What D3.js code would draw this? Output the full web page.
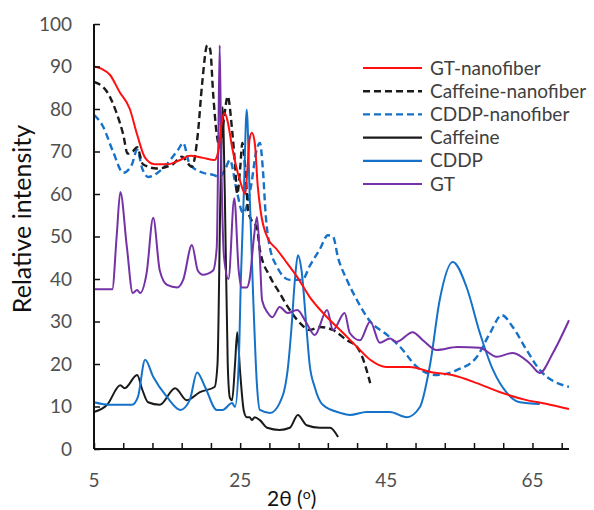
<!DOCTYPE html>
<html>
<head>
	<meta charset="utf-8">
	<script src="https://d3js.org/d3.v7.min.js"></script>
	<style>
		body {
			margin: 0;
			background: #fff;
		}
		text {
			font-family: Lato, "Open Sans", sans-serif;
		}
	</style>
</head>
<body>
	<div id="chartContainer"></div>

	<script type="text/javascript">
		// [2theta, relative intensity]
		var gtNanofiber = [[5,90],[6,89.5],[7.2,88],[8.5,84],[9.9,80],[10.9,74],[12,68.5],[13.3,67],[15,67],[16.8,68],[18.1,69],[19.9,68.5],[21.5,68],[22,70],[22.6,78],[22.9,79],[23.3,77],[23.9,71],[25,63],[25.7,60],[26,66],[26.3,73],[26.6,74.4],[27,72],[27.4,62],[27.8,56],[28.8,49.5],[30,47],[31.4,43.8],[32.8,40.5],[34.5,35.8],[36.9,31],[39.1,27.3],[41,24],[42.8,21],[45,19.3],[48.2,19.3],[51.4,18],[54,17.4],[57.4,15.5],[60.5,13.4],[64.2,11.5],[67,10.6],[70,9.4]];
		var caffeineNanofiber = [[5,86.4],[6.8,84],[8.1,79],[9,74],[9.6,69.5],[10.3,70],[10.9,71],[11.7,67],[13.6,66],[15.8,67],[17,68.8],[18.4,66.4],[19.2,74],[19.8,86],[20.5,95],[20.9,94],[21.3,83.7],[21.8,74],[22.2,71],[22.8,78],[23.3,83],[23.9,75],[24.3,67],[24.6,60],[25,66],[25.3,72],[25.7,66],[26.1,56],[26.5,54],[27.3,52],[27.7,46.8],[29.1,40.5],[30.4,36.7],[31.8,32.7],[33.2,29.6],[34.5,28],[35.9,28.7],[37.7,28],[39.6,25.6],[41,24],[41.7,21.7],[42.8,15.5]];
		var cddpNanofiber = [[5,78.6],[6.2,76],[7.6,70],[9,65],[10.2,67],[10.9,70.4],[11.6,66],[12.4,64],[14.4,66],[16.5,70.4],[17.2,72],[18.1,67],[19.9,65],[21.3,64.5],[22.2,64],[23,66],[23.6,68],[24.5,61],[25.4,55.5],[26.5,62],[27.2,70],[27.7,72],[28.1,66],[28.5,55],[29,48],[30,43],[31.8,39.8],[33.5,39.8],[34.5,43],[35.9,47],[37,50.3],[37.7,50],[38.4,45],[39.6,39.8],[41,35],[42.8,30],[45,27],[46.9,24],[49.2,19.3],[51.9,17.4],[54.7,18.6],[57.4,21.7],[59.2,27.3],[60.8,31.5],[62.3,28.7],[64.2,23.3],[66,18.6],[70,14.6]];
		var caffeine = [[5,8.7],[6.8,10.4],[8.6,15],[9.2,14.3],[10.9,17.4],[11.6,14],[12.4,11],[14,10.4],[16.1,14.3],[17.7,11.5],[19.5,13.4],[21.5,14.6],[21.9,20],[22.3,60],[22.6,80.5],[22.9,60],[23.3,20],[23.6,12],[23.9,11.5],[24.3,20],[24.6,27.5],[25,18],[25.5,9],[25.9,7.5],[26.3,7.5],[26.6,6.8],[27,7.5],[27.7,6.8],[28.7,5],[30.4,4.5],[31.8,5],[32.9,8],[34.1,5.6],[35.9,5],[37.3,5],[38.4,2.8]];
		var cddp = [[5,11],[7.2,10.4],[10.2,10.4],[11,12.2],[12,21],[13.1,17],[15,12.2],[16.8,9.2],[18.1,11.5],[19.1,18],[20.2,14.6],[21.8,9.2],[22.6,9.2],[23.9,10.8],[24.3,9.9],[24.8,20],[25.1,40],[25.5,60],[25.9,79.8],[26.3,60],[26.8,35],[27.3,15],[27.7,9.2],[29.1,8.5],[30.4,10.8],[31.5,18.6],[32,28],[32.5,40],[32.9,45.6],[33.4,42],[34.1,28],[34.5,20],[35.2,14.6],[36.3,10.4],[38.7,8.5],[40,8],[42.3,8.7],[45.5,8.7],[47.8,7.5],[49.6,9.9],[51,20],[52.3,35],[54.1,44],[56,38],[57.8,27.3],[59.6,18.6],[61.5,13.2],[63.3,11],[66,10.6]];
		var gt = [[5,37.6],[7.5,37.6],[8.1,50],[8.6,60.5],[9.5,47.5],[10.3,36.7],[10.9,37.4],[11.3,36.7],[12.2,41.4],[13.1,54.4],[14,42],[15,38.6],[16.4,38],[17.2,39.8],[18.4,48],[19.2,42],[19.9,41],[21.3,42],[21.8,47.5],[22,70],[22.2,95],[22.4,70],[22.8,45],[23.4,40],[24.2,59],[24.8,42],[25.2,38],[25.9,38],[26.3,40],[26.9,50],[27.3,54.6],[27.7,45],[28,35],[28.8,32],[29.4,31],[30.4,33.4],[31.5,32],[32.8,32.7],[34.1,29.6],[35.2,26.8],[36.9,32.7],[37.7,28],[39.3,32],[40,27.3],[41.4,25.6],[42.8,30],[44.1,25],[45.5,26],[46.4,25.2],[48.6,27.5],[50,25.6],[51.9,23.3],[54.7,24],[57.8,23.8],[60.1,21.7],[62.3,22.6],[64.6,20.2],[66,17.9],[67.8,22.6],[70,30.3]];

		var xTickLabels = [5, 25, 45, 65];
		var yTickLabels = [0, 10, 20, 30, 40, 50, 60, 70, 80, 90, 100];

		var series = [
			{name: "GT-nanofiber", values: gtNanofiber, color: "#ff1010", dash: null},
			{name: "Caffeine-nanofiber", values: caffeineNanofiber, color: "#1a1a1a", dash: "7,4"},
			{name: "CDDP-nanofiber", values: cddpNanofiber, color: "#1572c8", dash: "7,4"},
			{name: "Caffeine", values: caffeine, color: "#1a1a1a", dash: null},
			{name: "CDDP", values: cddp, color: "#1572c8", dash: null},
			{name: "GT", values: gt, color: "#7532a6", dash: null}
		];

		var width = 594, height = 510;
		var svg = d3.select("#chartContainer").append("svg")
			.attr("width", width)
			.attr("height", height);

		var x = d3.scaleLinear().domain([5, 70]).range([94, 569]);
		var y = d3.scaleLinear().domain([0, 100]).range([449, 24]);

		// draw order: dashed ones underneath, red on top
		var drawOrder = [2, 1, 3, 4, 5, 0];
		var line = d3.line()
			.x(function(d) { return x(d[0]); })
			.y(function(d) { return y(d[1]); })
			.curve(d3.curveMonotoneX);

		drawOrder.forEach(function(i) {
			var s = series[i];
			svg.append("path")
				.datum(s.values)
				.attr("fill", "none")
				.attr("stroke", s.color)
				.attr("stroke-width", s.dash ? 2.4 : 2)
				.attr("stroke-dasharray", s.dash)
				.attr("d", line);
		});

		// x axis, ticks every 4 units pointing up, labels only at 5,25,45,65
		var xAxis = svg.append("g").attr("transform", "translate(0," + y(0) + ")");
		xAxis.call(d3.axisTop(x).tickValues(d3.range(5, 70, 4)).tickSize(6).tickFormat(""));
		xAxis.select(".domain").attr("d", "M" + x(5) + ",0H" + x(70)).attr("stroke", "#111").attr("stroke-width", 2);
		xAxis.selectAll(".tick line").attr("stroke", "#111").attr("stroke-width", 1.5);
		svg.selectAll(".xlab").data(xTickLabels).enter().append("text")
			.attr("x", function(d) { return x(d); })
			.attr("y", 487)
			.attr("text-anchor", "middle")
			.style("font-size", "19px")
			.style("fill", "#505050")
			.text(function(d) { return d; });

		// y axis
		var yAxis = svg.append("g").attr("transform", "translate(" + x(5) + ",0)");
		yAxis.call(d3.axisRight(y).tickValues(yTickLabels).tickSize(6).tickFormat(""));
		yAxis.select(".domain").attr("d", "M0," + y(0) + "V" + y(100)).attr("stroke", "#111").attr("stroke-width", 2);
		yAxis.selectAll(".tick line").attr("stroke", "#111").attr("stroke-width", 1.5);
		svg.selectAll(".ylab").data(yTickLabels).enter().append("text")
			.attr("x", 72)
			.attr("y", function(d) { return y(d); })
			.attr("dy", "0.35em")
			.attr("text-anchor", "end")
			.style("font-size", "19px")
			.style("fill", "#505050")
			.text(function(d) { return d; });

		// axis titles
		svg.append("text")
			.attr("transform", "translate(31,219) rotate(-90)")
			.attr("text-anchor", "middle")
			.style("font-size", "25px")
			.style("fill", "#111")
			.text("Relative intensity");

		var xt = svg.append("text")
			.attr("x", 267)
			.attr("y", 506)
			.style("font-size", "21px")
			.style("fill", "#111");
		xt.append("tspan").text("2θ (");
		xt.append("tspan").attr("dy", -7).style("font-size", "14px").text("o");
		xt.append("tspan").attr("dy", 7).text(")");

		// legend
		var legend = svg.selectAll(".legend").data(series).enter().append("g")
			.attr("transform", function(d, i) { return "translate(363," + (68 + i * 23.2) + ")"; });
		legend.append("line")
			.attr("x1", 0).attr("x2", 59)
			.attr("stroke", function(d) { return d.color; })
			.attr("stroke-width", function(d) { return d.dash ? 2.4 : 2.2; })
			.attr("stroke-dasharray", function(d) { return d.dash; });
		legend.append("text")
			.attr("x", 67)
			.attr("dy", "0.35em")
			.style("font-size", "19px")
			.style("fill", "#404040")
			.text(function(d) { return d.name; });
	</script>
</body>
</html>
